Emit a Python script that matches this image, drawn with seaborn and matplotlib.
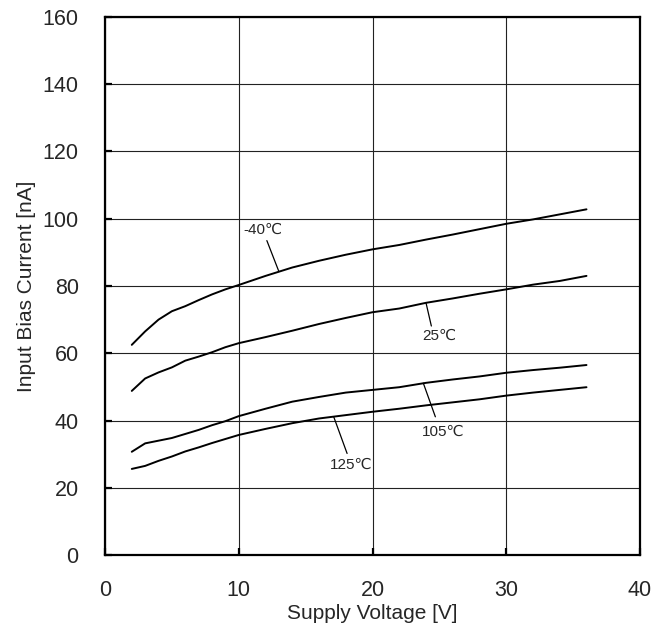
import numpy as np
import pandas as pd
import matplotlib
matplotlib.use("Agg")
import matplotlib.pyplot as plt
import seaborn as sns

# supply voltage [V]
volts = [2, 3, 4, 5, 6, 7, 8, 9, 10, 12, 14, 16, 18, 20, 22, 24, 26, 28, 30, 32, 34, 36]
# input bias current [nA] per temperature
ib_m40 = [62.5, 66.5, 70.0, 72.5, 74.0, 75.8, 77.5, 79.0, 80.3, 83.0, 85.5, 87.5, 89.3,
          90.9, 92.2, 93.8, 95.3, 96.9, 98.5, 99.8, 101.3, 102.8]
ib_25 = [48.8, 52.5, 54.3, 55.8, 57.8, 59.0, 60.3, 61.8, 63.0, 64.8, 66.7, 68.7, 70.5,
         72.2, 73.3, 75.0, 76.3, 77.7, 79.0, 80.4, 81.5, 83.0]
ib_105 = [30.7, 33.2, 34.0, 34.8, 36.0, 37.2, 38.6, 39.8, 41.3, 43.5, 45.6, 47.0, 48.3,
          49.1, 49.9, 51.2, 52.2, 53.1, 54.2, 55.0, 55.7, 56.5]
ib_125 = [25.6, 26.5, 28.0, 29.3, 30.8, 32.0, 33.3, 34.5, 35.7, 37.5, 39.2, 40.6, 41.6,
          42.6, 43.5, 44.5, 45.4, 46.3, 47.4, 48.3, 49.1, 49.9]
temps = ["-40℃", "25℃", "105℃", "125℃"]

df = pd.concat([
    pd.DataFrame({"V": volts, "I": ib_m40, "T": temps[0]}),
    pd.DataFrame({"V": volts, "I": ib_25, "T": temps[1]}),
    pd.DataFrame({"V": volts, "I": ib_105, "T": temps[2]}),
    pd.DataFrame({"V": volts, "I": ib_125, "T": temps[3]}),
])

sns.set_style("white")
plt.rcParams["font.family"] = ["Liberation Sans", "DejaVu Sans"]

fig = plt.figure(figsize=(6.61, 6.34), dpi=100)
ax = fig.add_axes([0.1589, 0.1246, 0.8093, 0.8486])

sns.lineplot(data=df, x="V", y="I", hue="T", palette=["black"] * 4,
             linewidth=1.4, legend=False, ax=ax)

ax.set_xlim(0, 40)
ax.set_ylim(0, 160)
ax.set_xticks(range(0, 41, 10))
ax.set_yticks(range(0, 161, 20))
ax.grid(True, color="#222222", linewidth=0.8)
for s in ax.spines.values():
    s.set_color("black")
    s.set_linewidth(1.6)
ax.tick_params(direction="in", length=5, width=1.6, color="black",
               labelsize=15.5, pad=19, bottom=True, left=True)
ax.tick_params(axis="x", pad=18)
ax.set_xlabel("Supply Voltage [V]", fontsize=15, labelpad=2)
ax.set_ylabel("Input Bias Current [nA]", fontsize=15, labelpad=5)

# labels with leader lines
notes = [
    (temps[0], (13.0, 84.3), (12.1, 93.5), (11.8, 96.7)),
    (temps[1], (24.0, 75.0), (24.4, 68.1), (25.0, 65.1)),
    (temps[2], (23.8, 51.1), (24.7, 41.1), (25.3, 36.7)),
    (temps[3], (17.1, 41.1), (18.1, 30.2), (18.4, 26.8)),
]
for txt, p0, p1, pt in notes:
    ax.annotate("", xy=p0, xytext=p1,
                arrowprops=dict(arrowstyle="-", color="black", lw=0.9,
                                shrinkA=0, shrinkB=0))
    ax.text(pt[0], pt[1], txt, fontsize=11, ha="center", va="center")

fig.savefig("out.png", dpi=100)
